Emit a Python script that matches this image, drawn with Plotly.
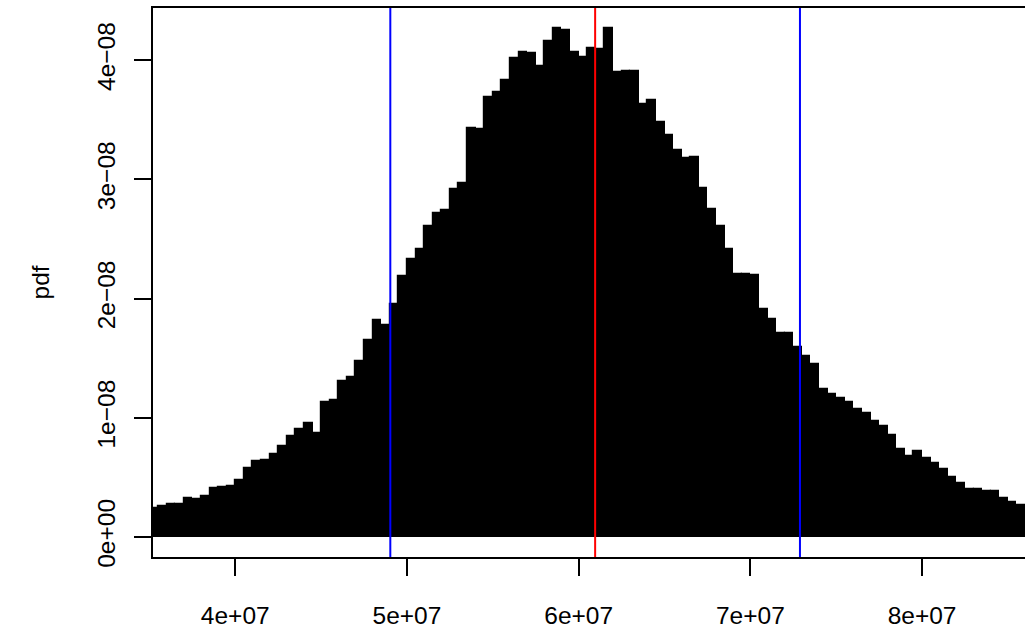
import plotly.graph_objects as go

# bin left edges (in units of 1e6)
bin_left_mil = [35.0, 35.5, 36.0, 36.5, 37.0, 37.5, 38.0, 38.5, 39.0, 39.5,
                40.0, 40.5, 41.0, 41.5, 42.0, 42.5, 43.0, 43.5, 44.0, 44.5,
                45.0, 45.5, 46.0, 46.5, 47.0, 47.5, 48.0, 48.5, 49.0, 49.5,
                50.0, 50.5, 51.0, 51.5, 52.0, 52.5, 53.0, 53.5, 54.0, 54.5,
                55.0, 55.5, 56.0, 56.5, 57.0, 57.5, 58.0, 58.5, 59.0, 59.5,
                60.0, 60.5, 61.0, 61.5, 62.0, 62.5, 63.0, 63.5, 64.0, 64.5,
                65.0, 65.5, 66.0, 66.5, 67.0, 67.5, 68.0, 68.5, 69.0, 69.5,
                70.0, 70.5, 71.0, 71.5, 72.0, 72.5, 73.0, 73.5, 74.0, 74.5,
                75.0, 75.5, 76.0, 76.5, 77.0, 77.5, 78.0, 78.5, 79.0, 79.5,
                80.0, 80.5, 81.0, 81.5, 82.0, 82.5, 83.0, 83.5, 84.0, 84.5,
                85.0, 85.5]
bin_width_mil = 0.5

# density values (in units of 1e-8)
pdf_e8 = [0.24, 0.26, 0.28, 0.28, 0.33, 0.32, 0.34, 0.41, 0.42, 0.43,
          0.48, 0.58, 0.635, 0.65, 0.70, 0.76, 0.85, 0.91, 0.96, 0.875,
          1.13, 1.15, 1.31, 1.34, 1.48, 1.65, 1.82, 1.775, 1.955, 2.19,
          2.33, 2.42, 2.61, 2.72, 2.745, 2.92, 2.97, 3.43, 3.42, 3.69,
          3.73, 3.83, 4.02, 4.07, 4.06, 3.95, 4.16, 4.27, 4.255, 4.07,
          4.03, 4.10, 4.095, 4.27, 3.90, 3.91, 3.91, 3.63, 3.67, 3.485,
          3.37, 3.25, 3.18, 3.19, 2.93, 2.75, 2.61, 2.42, 2.21, 2.21,
          2.20, 1.91, 1.83, 1.71, 1.71, 1.59, 1.52, 1.45, 1.245, 1.20,
          1.165, 1.13, 1.07, 1.04, 0.97, 0.93, 0.86, 0.74, 0.68, 0.72,
          0.66, 0.62, 0.57, 0.50, 0.45, 0.40, 0.40, 0.39, 0.39, 0.33,
          0.295, 0.27]

# reference lines
ci_lines = [4.903e7, 7.289e7]
mean_line = 6.096e7

x_tick_vals = [4e7, 5e7, 6e7, 7e7, 8e7]
x_tick_text = ["4e+07", "5e+07", "6e+07", "7e+07", "8e+07"]
y_tick_vals = [0, 1e-8, 2e-8, 3e-8, 4e-8]
y_tick_text = ["0e+00", "1e\u221208", "2e\u221208", "3e\u221208", "4e\u221208"]

centers = [(b + bin_width_mil / 2) * 1e6 for b in bin_left_mil]
heights = [v * 1e-8 for v in pdf_e8]

FONT = "Liberation Sans, Arial, Helvetica, sans-serif"
FS = 24.5

fig = go.Figure()
fig.add_trace(go.Bar(
    x=centers, y=heights, width=bin_width_mil * 1e6,
    marker=dict(color="black", line=dict(width=1.2, color="black")),
    showlegend=False, hoverinfo="skip",
))

for xv in ci_lines:
    fig.add_shape(type="line", xref="x", yref="paper", x0=xv, x1=xv, y0=0, y1=1,
                  line=dict(color="#0000FF", width=2))
fig.add_shape(type="line", xref="x", yref="paper", x0=mean_line, x1=mean_line, y0=0, y1=1,
              line=dict(color="#FF0000", width=2))

fig.update_layout(
    width=1025, height=629,
    margin=dict(l=153, r=0, t=8, b=72),
    plot_bgcolor="white", paper_bgcolor="white",
    bargap=0,
    font=dict(family=FONT, size=FS, color="black"),
    xaxis=dict(
        range=[3.5208e7, 8.5997e7],
        tickmode="array", tickvals=x_tick_vals, ticktext=x_tick_text,
        ticks="outside", ticklen=17, tickwidth=1.5, tickcolor="black",
        showline=True, linecolor="black", linewidth=1.8, mirror=True,
        showgrid=False, zeroline=False, automargin=False,
        ticklabelstandoff=19,
        tickfont=dict(family=FONT, size=FS, color="black"),
    ),
    yaxis=dict(
        range=[-1.676e-9, 4.438e-8],
        tickmode="array", tickvals=y_tick_vals, ticktext=y_tick_text,
        ticks="outside", ticklen=17, tickwidth=1.5, tickcolor="black",
        showline=True, linecolor="black", linewidth=1.8, mirror=False,
        showgrid=False, zeroline=False, automargin=False,
        tickangle=-90,
        ticklabelstandoff=9,
        tickfont=dict(family=FONT, size=FS, color="black"),
    ),
    annotations=[dict(
        text="pdf", xref="paper", yref="paper",
        x=(40 - 153) / 872, y=0.5, xanchor="center", yanchor="middle",
        textangle=-90, showarrow=False,
        font=dict(family=FONT, size=FS, color="black"),
    )],
)

fig.write_html("out.html")
